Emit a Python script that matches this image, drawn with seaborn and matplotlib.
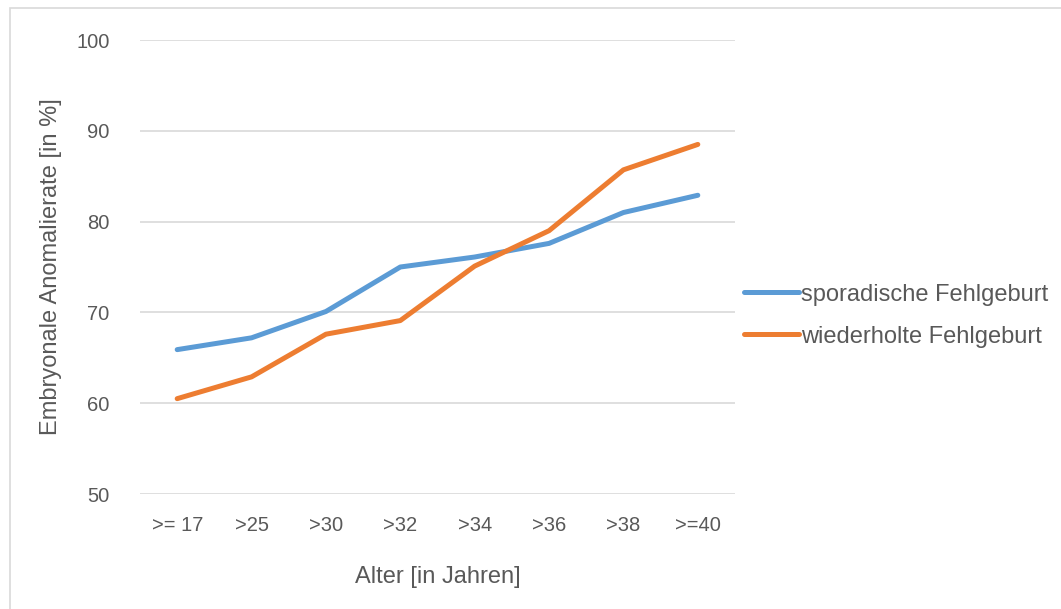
import pandas as pd
import matplotlib
matplotlib.use("Agg")
import matplotlib.pyplot as plt
import seaborn as sns
from matplotlib.patches import Rectangle

# Data
age_groups = [">= 17", ">25", ">30", ">32", ">34", ">36", ">38", ">=40"]
sporadic = [65.9, 67.2, 70.1, 75.0, 76.1, 77.6, 81.0, 82.9]
repeated = [60.5, 62.9, 67.6, 69.1, 75.1, 79.0, 85.7, 88.5]
series_names = ["sporadische Fehlgeburt", "wiederholte Fehlgeburt"]

df = pd.DataFrame({
    "pos": list(range(len(age_groups))) * 2,
    "rate": sporadic + repeated,
    "series": [series_names[0]] * len(age_groups) + [series_names[1]] * len(age_groups),
})

sns.set_style("white")
plt.rcParams["font.family"] = ["Liberation Sans", "DejaVu Sans"]
text_color = "#595959"

fig = plt.figure(figsize=(10.61, 6.09), dpi=100)
ax = fig.add_axes([140 / 1061, 1 - 494 / 609, (735 - 140) / 1061, (494 - 40) / 609])

# outer chart frame
fig.patches.append(Rectangle((10 / 1061, -0.01), 1.02, 1 - 8 / 609 + 0.01,
                             transform=fig.transFigure, fill=False,
                             edgecolor="#d9d9d9", linewidth=1.2))

sns.lineplot(data=df, x="pos", y="rate", hue="series",
             palette=["#5B9BD5", "#ED7D31"], linewidth=3.6, ax=ax,
             solid_capstyle="round")

ax.set_xlim(-0.5, len(age_groups) - 0.5)
ax.set_ylim(50, 100)
ax.set_yticks(range(50, 101, 10))
ax.set_xticks(range(len(age_groups)))
ax.set_xticklabels(age_groups)
ax.grid(axis="y", color="#d9d9d9", linewidth=1.2)
ax.grid(axis="x", visible=False)
for s in ax.spines.values():
    s.set_visible(False)
ax.tick_params(axis="both", length=0, labelsize=14.5, colors=text_color)
ax.tick_params(axis="y", pad=22)
ax.tick_params(axis="x", pad=16)

ax.set_xlabel("Alter [in Jahren]", fontsize=17, color=text_color, labelpad=22)
ax.set_ylabel("Embryonale Anomalierate [in %]", fontsize=17, color=text_color, labelpad=10)

leg = ax.legend(loc="center left", bbox_to_anchor=(1.0, 0.393), frameon=False,
                fontsize=17, handlelength=2.3, handletextpad=0.1,
                labelspacing=0.85, borderaxespad=0.0)
for t in leg.get_texts():
    t.set_color(text_color)
for h in leg.get_lines():
    h.set_linewidth(3.6)

fig.savefig("out.png", dpi=100)
